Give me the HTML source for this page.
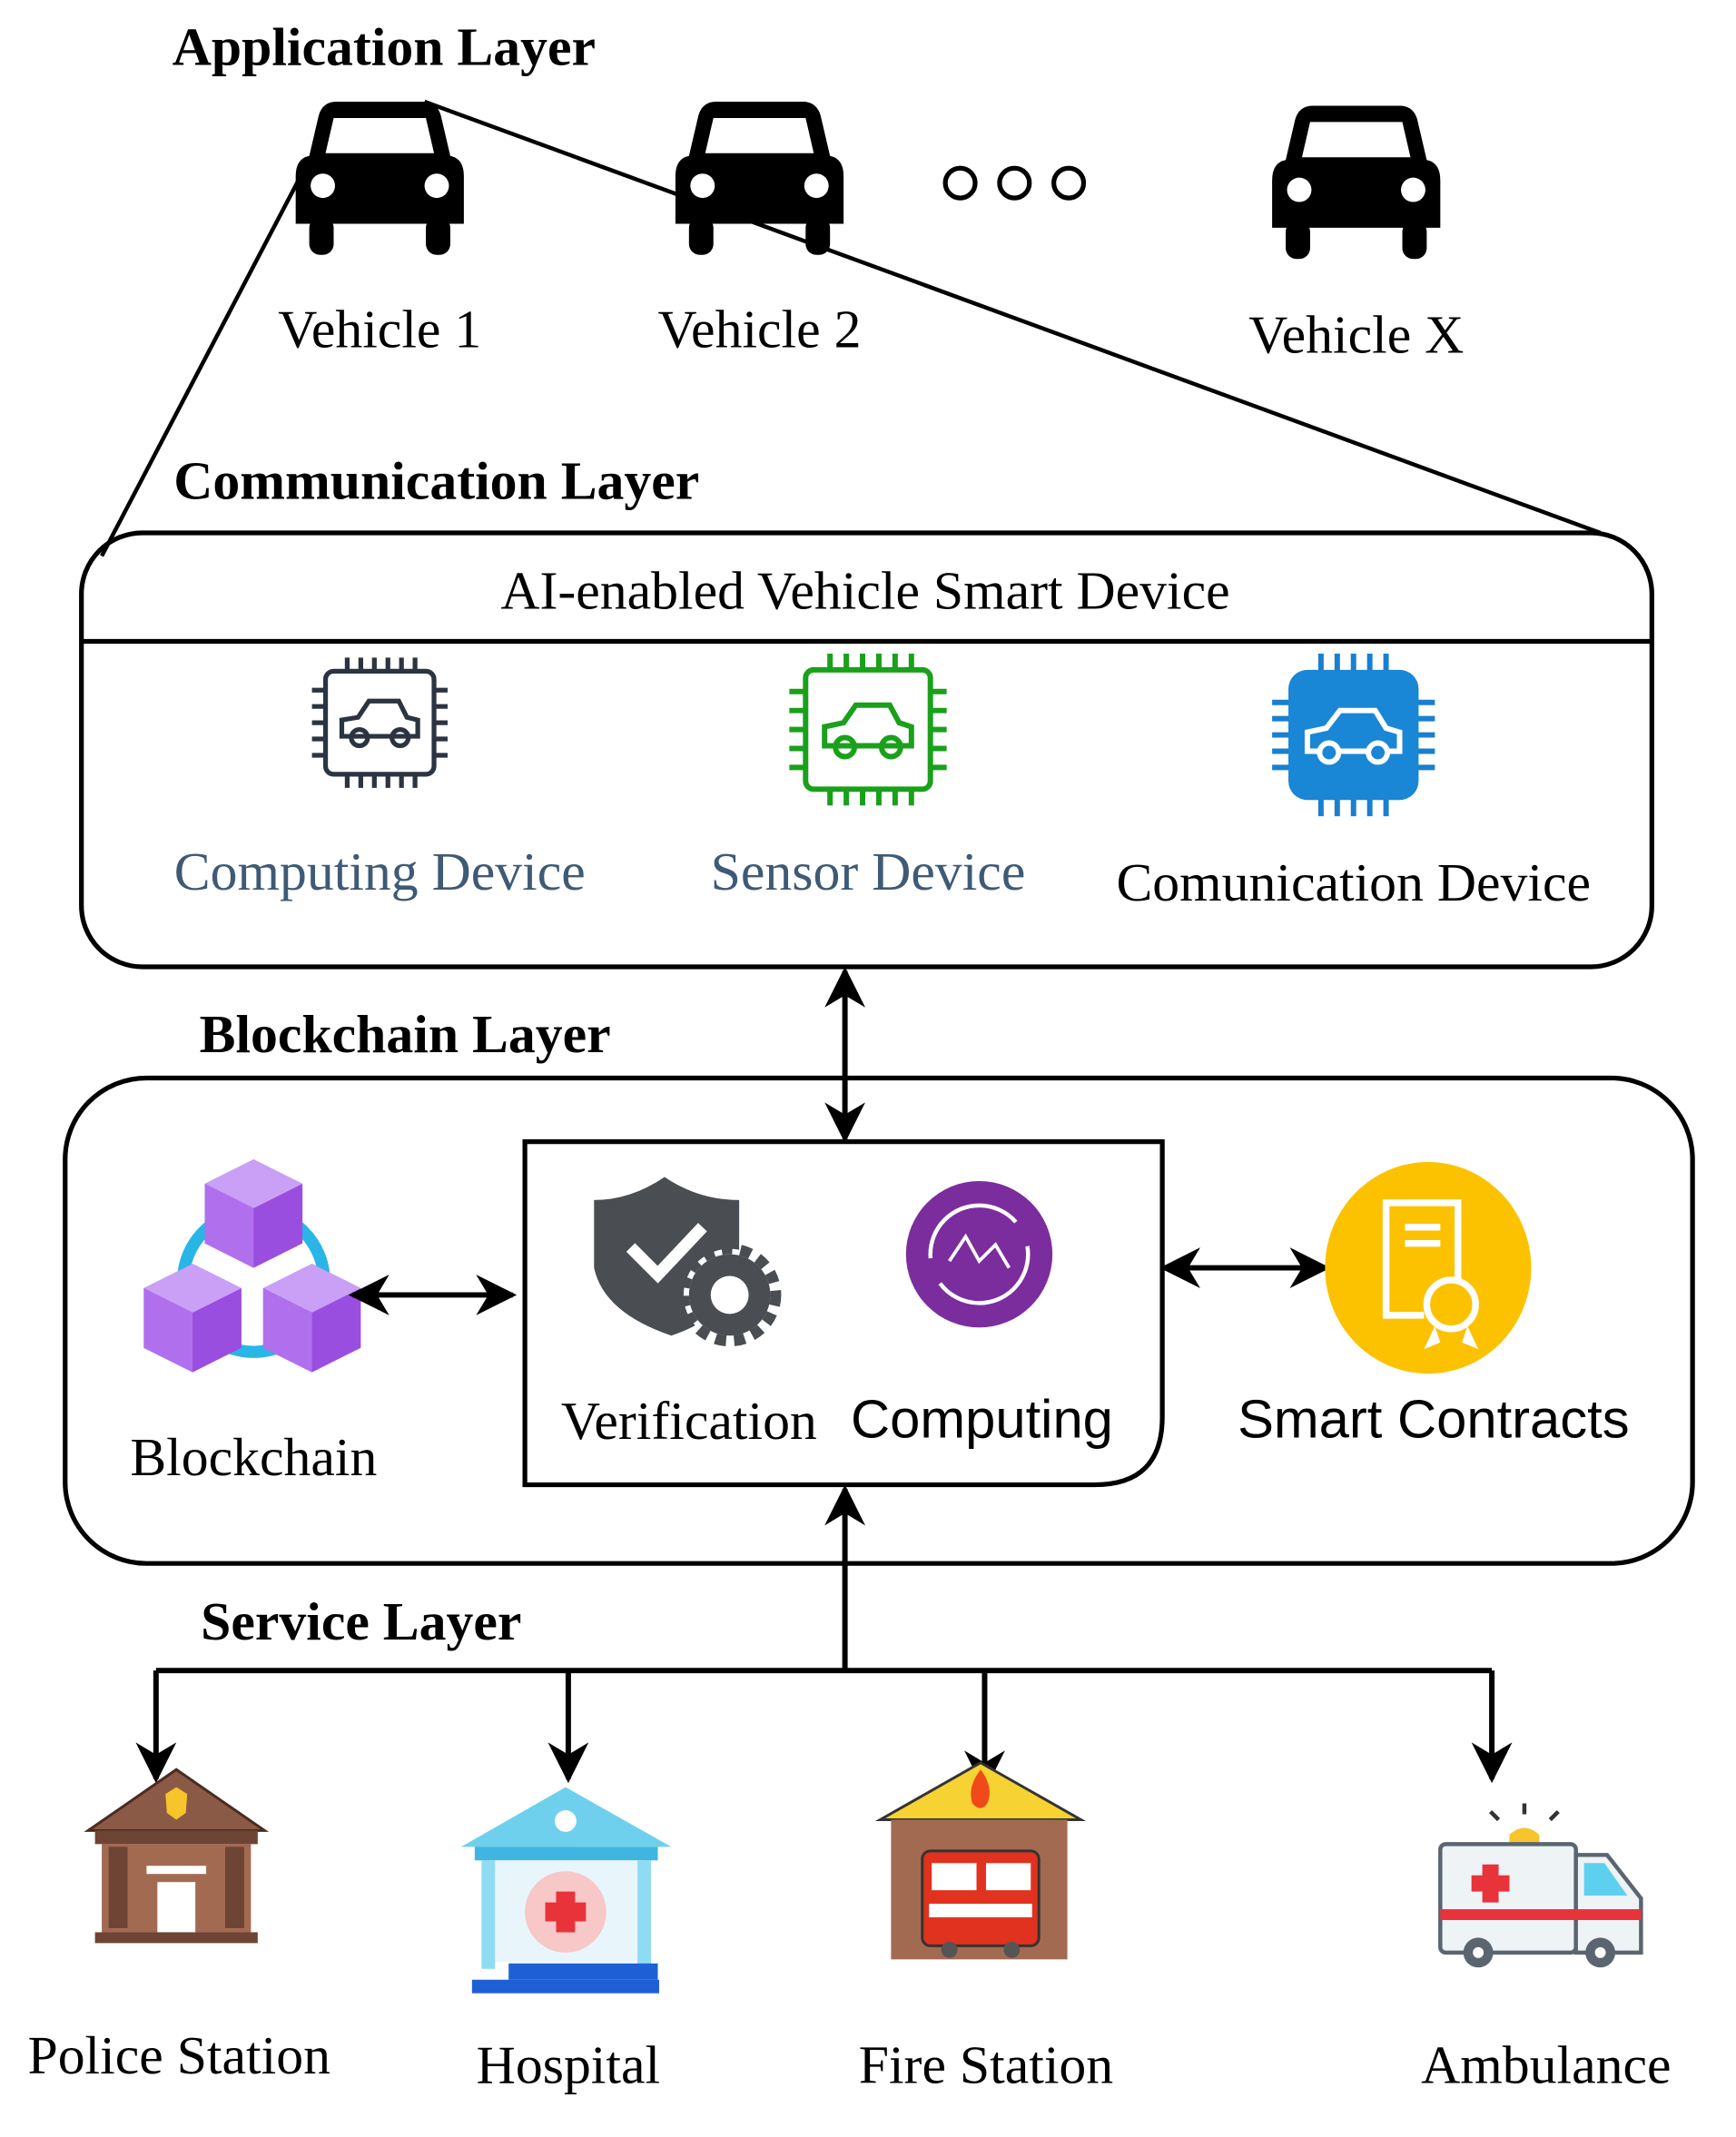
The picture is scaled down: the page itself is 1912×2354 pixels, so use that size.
<!DOCTYPE html>
<html><head><meta charset="utf-8"><style>
html,body{margin:0;padding:0;background:#fff;width:1912px;height:2354px;overflow:hidden}
svg{display:block}
.s{font-family:"Liberation Serif",serif}
.a{font-family:"Liberation Sans",sans-serif}
</style></head><body>
<svg width="1912" height="2354" viewBox="0 0 1280 1576" xmlns="http://www.w3.org/2000/svg">
<defs>
<marker id="ah" viewBox="0 0 20 20" refX="18" refY="10" markerWidth="30" markerHeight="30" markerUnits="userSpaceOnUse" orient="auto-start-reverse">
<path d="M0,0 L20,10 L0,20 L6,10 Z" fill="#000"/></marker>
<g id="car">
<path d="M-45,-50 Q-42,-60 -32,-60 L32,-60 Q42,-60 45,-50 L52,-20 Q62,-18 62,-5 L62,30 L-62,30 L-62,-5 Q-62,-18 -52,-20 Z" fill="#000"/>
<path d="M-34,-48 L34,-48 L40,-22 L-40,-22 Z" fill="#fff"/>
<circle cx="-42" cy="2" r="9" fill="#fff"/><circle cx="42" cy="2" r="9" fill="#fff"/>
<rect x="-52" y="25" width="18" height="28" rx="8" fill="#000"/><rect x="34" y="25" width="18" height="28" rx="8" fill="#000"/>
</g>
</defs>

<text x="127" y="48" class="s" font-weight="bold" font-size="40">Application Layer</text>
<use href="#car" x="280" y="135"/>
<use href="#car" x="560" y="135"/>
<use href="#car" x="1000" y="138"/>
<g fill="none" stroke="#000" stroke-width="3.5"><circle cx="708" cy="135" r="11"/><circle cx="748" cy="135" r="11"/><circle cx="788" cy="135" r="11"/></g>
<g class="s" font-size="40" text-anchor="middle"><text x="280" y="256">Vehicle 1</text><text x="560" y="256">Vehicle 2</text><text x="1000" y="260">Vehicle X</text></g>
<g stroke="#000" stroke-width="3" fill="none"><line x1="313" y1="75" x2="1180" y2="393"/><line x1="220" y1="133" x2="75" y2="410"/></g>

<text x="128" y="368" class="s" font-weight="bold" font-size="40">Communication Layer</text>
<rect x="60" y="393" width="1158" height="320" rx="45" fill="none" stroke="#000" stroke-width="3.5"/>
<line x1="60" y1="473" x2="1218" y2="473" stroke="#000" stroke-width="3.5"/>
<text x="638" y="449" class="s" font-size="40" text-anchor="middle">AI-enabled Vehicle Smart Device</text>
<g transform="translate(280,533)" fill="none" stroke="#2b3440" stroke-width="3.5">
<rect x="-40" y="-38" width="80" height="76" rx="6"/>
<path d="M-24,-38v-10M-14,-38v-10M-4,-38v-10M6,-38v-10M16,-38v-10M26,-38v-10M-24,38v10M-14,38v10M-4,38v10M6,38v10M16,38v10M26,38v10M-40,-24h-10M-40,-12h-10M-40,0h-10M-40,12h-10M-40,24h-10M40,-24h10M40,-12h10M40,0h10M40,12h10M40,24h10"/>
<path d="M-28,10 L-28,-2 L-16,-4 L-8,-16 L14,-16 L20,-4 L28,-2 L28,10 Z"/><circle cx="-15" cy="11" r="6"/><circle cx="15" cy="11" r="6"/></g>
<g transform="translate(640,538)" fill="none" stroke="#1aa01a" stroke-width="4">
<rect x="-46" y="-44" width="92" height="88" rx="6"/>
<path d="M-28,-44v-12M-16,-44v-12M-4,-44v-12M8,-44v-12M20,-44v-12M32,-44v-12M-28,44v12M-16,44v12M-4,44v12M8,44v12M20,44v12M32,44v12M-46,-28h-12M-46,-14h-12M-46,0h-12M-46,14h-12M-46,28h-12M46,-28h12M46,-14h12M46,0h12M46,14h12M46,28h12"/>
<path d="M-32,12 L-32,-2 L-18,-5 L-9,-18 L16,-18 L23,-5 L32,-2 L32,12 Z"/><circle cx="-17" cy="13" r="7"/><circle cx="17" cy="13" r="7"/></g>
<g transform="translate(998,542)">
<g stroke="#1a7fd0" stroke-width="4"><path d="M-24,-46v-14M-12,-46v-14M0,-46v-14M12,-46v-14M24,-46v-14M-24,46v14M-12,46v14M0,46v14M12,46v14M24,46v14M-46,-24h-14M-46,-12h-14M-46,0h-14M-46,12h-14M-46,24h-14M46,-24h14M46,-12h14M46,0h14M46,12h14M46,24h14"/></g>
<rect x="-48" y="-48" width="96" height="96" rx="14" fill="#1a86d6"/>
<g fill="none" stroke="#fff" stroke-width="4"><path d="M-34,12 L-34,-2 L-20,-5 L-10,-18 L16,-18 L24,-5 L34,-2 L34,12 Z"/><circle cx="-18" cy="13" r="7" fill="#1a86d6"/><circle cx="18" cy="13" r="7" fill="#1a86d6"/></g></g>
<text x="280" y="656" class="s" font-size="40" fill="#3e5a76" text-anchor="middle">Computing Device</text>
<text x="640" y="656" class="s" font-size="40" fill="#3e5a76" text-anchor="middle">Sensor Device</text>
<text x="998" y="664" class="s" font-size="40" text-anchor="middle">Comunication Device</text>

<line x1="623" y1="716" x2="623" y2="840" stroke="#000" stroke-width="4" marker-start="url(#ah)" marker-end="url(#ah)"/>

<text x="147" y="776" class="s" font-weight="bold" font-size="40">Blockchain Layer</text>
<rect x="48" y="795" width="1200" height="358" rx="60" fill="none" stroke="#000" stroke-width="3.5"/>
<path d="M387,842 L857,842 L857,1045 Q857,1095 807,1095 L387,1095 Z" fill="none" stroke="#000" stroke-width="3.5"/>

<circle cx="187" cy="945" r="52" fill="none" stroke="#29b6e6" stroke-width="9"/>
<g>
<g transform="translate(187,895)"><path d="M0,-40 L36,-22 L36,22 L0,40 L-36,22 L-36,-22Z" fill="#9a4ee0"/><path d="M0,-40 L36,-22 L0,-4 L-36,-22Z" fill="#c9a0f5"/><path d="M-36,-22 L0,-4 L0,40 L-36,22Z" fill="#b070ee"/></g>
<g transform="translate(142,972)"><path d="M0,-40 L36,-22 L36,22 L0,40 L-36,22 L-36,-22Z" fill="#9a4ee0"/><path d="M0,-40 L36,-22 L0,-4 L-36,-22Z" fill="#c9a0f5"/><path d="M-36,-22 L0,-4 L0,40 L-36,22Z" fill="#b070ee"/></g>
<g transform="translate(230,972)"><path d="M0,-40 L36,-22 L36,22 L0,40 L-36,22 L-36,-22Z" fill="#9a4ee0"/><path d="M0,-40 L36,-22 L0,-4 L-36,-22Z" fill="#c9a0f5"/><path d="M-36,-22 L0,-4 L0,40 L-36,22Z" fill="#b070ee"/></g>
</g>
<text x="187" y="1088" class="s" font-size="40" text-anchor="middle">Blockchain</text>
<line x1="260" y1="955" x2="378" y2="955" stroke="#000" stroke-width="4" marker-start="url(#ah)" marker-end="url(#ah)"/>

<path d="M490,868 Q515,885 545,885 L545,935 Q540,970 495,985 Q445,968 438,935 L438,885 Q465,885 490,868Z" fill="#4a4d51"/>
<path d="M465,920 L485,940 L518,905" fill="none" stroke="#fff" stroke-width="9"/>
<circle cx="538" cy="955" r="32" fill="#4a4d51" stroke="#fff" stroke-width="4"/>
<circle cx="538" cy="955" r="34" fill="none" stroke="#4a4d51" stroke-width="8" stroke-dasharray="8 6"/>
<circle cx="538" cy="955" r="14" fill="#fff"/>
<circle cx="722" cy="925" r="54" fill="#7b2d9e"/>
<circle cx="722" cy="925" r="36" fill="none" stroke="#fff" stroke-width="3" stroke-dasharray="90 20"/>
<path d="M700,930 L712,912 L722,930 L734,918 L744,935" fill="none" stroke="#fff" stroke-width="2.5"/>
<text x="508" y="1061" class="s" font-size="40" text-anchor="middle">Verification</text>
<text x="724" y="1060" class="a" font-size="40" text-anchor="middle">Computing</text>

<line x1="858" y1="935" x2="978" y2="935" stroke="#000" stroke-width="4" marker-start="url(#ah)" marker-end="url(#ah)"/>
<ellipse cx="1053" cy="935" rx="76" ry="78" fill="#fcc200"/>
<g fill="none" stroke="#fff" stroke-width="5"><path d="M1050,970 L1022,970 L1022,887 L1075,887 L1075,945"/><path d="M1036,905 L1062,905 M1036,917 L1062,917"/><circle cx="1070" cy="962" r="18"/></g>
<path d="M1058,978 L1050,995 L1062,990 Z M1082,978 L1090,995 L1078,990 Z" fill="#fff"/>
<text x="1057" y="1060" class="a" font-size="40" text-anchor="middle">Smart Contracts</text>

<text x="148" y="1209" class="s" font-weight="bold" font-size="40">Service Layer</text>
<g stroke="#000" stroke-width="4" fill="none">
<line x1="623" y1="1232" x2="623" y2="1098" marker-end="url(#ah)"/>
<line x1="115" y1="1232" x2="1100" y2="1232"/>
<line x1="115" y1="1232" x2="115" y2="1312" marker-end="url(#ah)"/>
<line x1="419" y1="1232" x2="419" y2="1312" marker-end="url(#ah)"/>
<line x1="726" y1="1232" x2="726" y2="1318" marker-end="url(#ah)"/>
<line x1="1100" y1="1232" x2="1100" y2="1312" marker-end="url(#ah)"/>
</g>

<g>
<path d="M130,1305 L195,1350 L65,1350Z" fill="#8b5a46" stroke="#4a2c20" stroke-width="2"/>
<path d="M122,1323 L130,1318 L138,1323 L137,1337 L130,1342 L123,1337Z" fill="#f6c42b"/>
<rect x="70" y="1350" width="120" height="10" fill="#6e4434"/>
<rect x="75" y="1360" width="110" height="65" fill="#a36a52"/>
<rect x="80" y="1362" width="14" height="60" fill="#6e4434"/><rect x="166" y="1362" width="14" height="60" fill="#6e4434"/>
<rect x="116" y="1388" width="28" height="37" fill="#fff"/><rect x="108" y="1376" width="44" height="6" fill="#fff"/>
<rect x="70" y="1425" width="120" height="8" fill="#6e4434"/>
</g>
<g>
<path d="M417,1318 L495,1362 L340,1362Z" fill="#6fd0ee"/>
<circle cx="417" cy="1343" r="8" fill="#fff"/>
<rect x="350" y="1362" width="135" height="10" fill="#3fb6e0"/>
<rect x="360" y="1372" width="115" height="75" fill="#e8f6fb"/>
<rect x="355" y="1372" width="10" height="80" fill="#8fdcf2"/><rect x="470" y="1372" width="10" height="80" fill="#8fdcf2"/>
<circle cx="417" cy="1410" r="30" fill="#f8c7c7"/>
<path d="M410,1395h14v8h8v14h-8v8h-14v-8h-8v-14h8z" fill="#e8333a"/>
<rect x="348" y="1460" width="138" height="10" fill="#1f5fd6"/><rect x="375" y="1448" width="110" height="12" fill="#1f5fd6"/>
</g>
<g>
<path d="M723,1300 L797,1342 L649,1342Z" fill="#f6d232" stroke="#333" stroke-width="2"/>
<path d="M723,1305 Q733,1318 728,1330 Q723,1337 717,1330 Q713,1318 723,1305Z" fill="#f04a1a"/>
<rect x="657" y="1342" width="130" height="103" fill="#a36a52"/>
<rect x="680" y="1365" width="86" height="70" rx="6" fill="#e0321e" stroke="#333" stroke-width="2"/>
<rect x="687" y="1374" width="33" height="20" fill="#fff"/><rect x="727" y="1374" width="33" height="20" fill="#fff"/>
<rect x="685" y="1404" width="76" height="10" fill="#fff"/>
<circle cx="700" cy="1438" r="6" fill="#555"/><circle cx="746" cy="1438" r="6" fill="#555"/>
</g>
<g>
<path d="M1113,1353 Q1124,1343 1135,1353 L1135,1360 L1113,1360Z" fill="#f6c42b"/>
<path d="M1105,1342l-6,-6M1124,1338v-8M1143,1342l6,-6" stroke="#333" stroke-width="3"/>
<rect x="1062" y="1360" width="100" height="80" rx="4" fill="#eef3f6" stroke="#5a6570" stroke-width="3"/>
<path d="M1162,1368 L1185,1368 L1210,1400 L1210,1440 L1162,1440Z" fill="#eef3f6" stroke="#5a6570" stroke-width="3"/>
<path d="M1168,1374 L1183,1374 L1200,1398 L1168,1398Z" fill="#5ed0ef"/>
<rect x="1062" y="1408" width="148" height="8" fill="#e8333a"/>
<path d="M1093,1375h12v8h8v12h-8v8h-12v-8h-8v-12h8z" fill="#e8333a"/>
<circle cx="1090" cy="1440" r="11" fill="#5a6570"/><circle cx="1180" cy="1440" r="11" fill="#5a6570"/>
<circle cx="1090" cy="1440" r="4" fill="#fff"/><circle cx="1180" cy="1440" r="4" fill="#fff"/>
</g>
<g class="s" font-size="40" text-anchor="middle">
<text x="132" y="1529">Police Station</text><text x="419" y="1536">Hospital</text>
<text x="727" y="1536">Fire Station</text><text x="1140" y="1536">Ambulance</text></g>
</svg>
</body></html>
